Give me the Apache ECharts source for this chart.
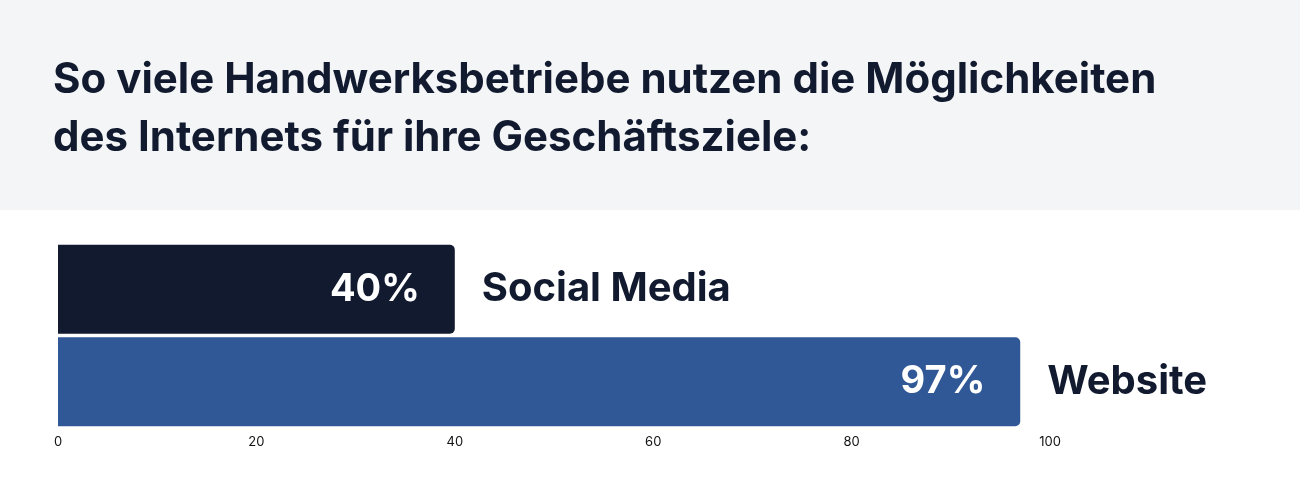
<!DOCTYPE html>
<html>
<head>
<meta charset="utf-8">
<script src="https://cdn.jsdelivr.net/npm/echarts@6/dist/echarts.min.js"></script>
<style>body{margin:0}#c{width:1300px;height:500px}</style>
</head>
<body>
<div id="c"></div>
<script>
var categories = ['Social Media', 'Website'];
var values = [40, 97];
var colors = ['#111a2e', '#315896'];
var xTicks = [0, 20, 40, 60, 80, 100];

var chart = echarts.init(document.getElementById('c'));
chart.setOption({
    animation: false,
    backgroundColor: '#ffffff',
    graphic: [{
        type: 'rect', z: -1,
        shape: { x: 0, y: 0, width: 1300, height: 210 },
        style: { fill: '#f3f5f7' }
    }],
    title: {
        text: 'So viele Handwerksbetriebe nutzen die Möglichkeiten\ndes Internets für ihre Geschäftsziele:',
        left: 48, top: 46,
        textStyle: { fontFamily: 'Inter', fontSize: 42, fontWeight: 'bold', color: '#111a2e', lineHeight: 58 }
    },
    grid: { left: 58, width: 992, top: 243, height: 185 },
    xAxis: {
        type: 'value', min: 0, max: 100, interval: 20,
        axisLine: { show: false }, axisTick: { show: false }, splitLine: { show: false },
        axisLabel: { fontFamily: 'Inter', fontSize: 13, color: '#111', margin: 8 }
    },
    yAxis: {
        type: 'category', data: categories, inverse: true,
        axisLine: { show: false }, axisTick: { show: false }, axisLabel: { show: false }
    },
    series: [{
        type: 'bar',
        barCategoryGap: '4%',
        data: values.map(function (v, i) {
            return { value: v, itemStyle: { color: colors[i], borderRadius: [0, 5, 5, 0] } };
        }),
        label: {
            show: true, position: 'insideRight', distance: 35,
            formatter: '{c}%', color: '#fff',
            fontFamily: 'Inter', fontSize: 38, fontWeight: 'bold'
        }
    }, {
        type: 'bar',
        barGap: '-100%',
        barCategoryGap: '4%',
        silent: true,
        data: values,
        itemStyle: { color: 'rgba(0,0,0,0)' },
        label: {
            show: true, position: 'right', distance: 27,
            formatter: function (p) { return categories[p.dataIndex]; },
            color: '#111a2e', fontFamily: 'Inter', fontSize: 40, fontWeight: 'bold'
        }
    }]
});
</script>
</body>
</html>
